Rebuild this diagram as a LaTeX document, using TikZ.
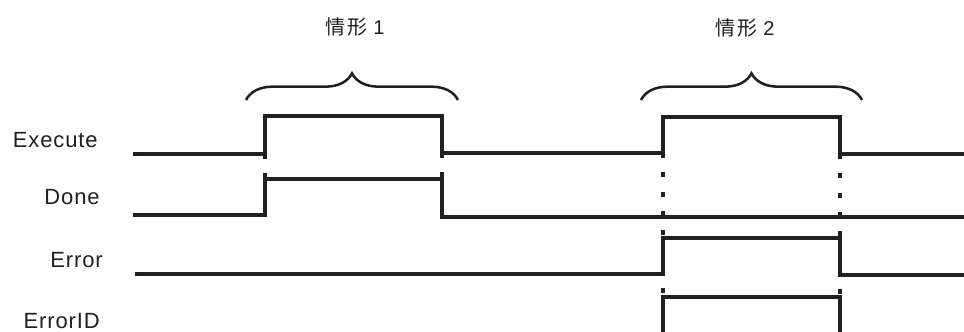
\documentclass[tikz,border=0pt]{standalone}
\usepackage{fontspec}
\setmainfont{Liberation Sans}[LetterSpace=4]
\newfontfamily\cjk{Noto Sans CJK SC}[LetterSpace=8]
\usepackage{tikz}
\usetikzlibrary{decorations.pathreplacing}
\definecolor{inkx}{HTML}{231F20}
\tikzset{
  sig/.style={inkx,line width=2.3pt,line join=miter},
  guide/.style={inkx,line width=2.3pt,dash pattern=on 3.75pt off 10.7pt},
  brc/.style={inkx,line width=1.9pt,decorate,decoration={brace,amplitude=20pt}},
  lbl/.style={font=\fontsize{16.5}{18}\selectfont,text=inkx,anchor=east,inner sep=0pt},
  casetxt/.style={font=\fontsize{15}{17}\selectfont,text=inkx,inner sep=0pt}
}

\begin{document}
\begin{tikzpicture}[x=0.75pt,y=-0.75pt]
\useasboundingbox (0,0) rectangle (964,332);
\def\ta{265}
\def\tb{442}
\def\tc{663}
\def\td{840}
% signal names
\node[lbl] (exe) at (98,140) {Execute};
\node[lbl] (done) at (100,197) {Done};
\node[lbl] (err) at (103,260) {Error};
\node[lbl] (errid) at (100,321) {ErrorID};
% case labels and braces
\node[casetxt] (caseA) at (355,27) {{\cjk 情形}\ 1};
\node[casetxt] (caseB) at (745,28) {{\cjk 情形}\ 2};
\draw[brc] (246,100) -- (458,100);
\draw[brc] (641,100) -- (862,100);
% waveforms
\draw[sig] (133,154) -- (\ta,154) -- (\ta,116) -- (\tb,116) -- (\tb,153) -- (\tc,153)
  -- (\tc,117) -- (\td,117) -- (\td,154) -- (964,154);
\draw[sig] (133,215) -- (\ta,215) -- (\ta,179) -- (\tb,179) -- (\tb,217) -- (964,217);
\draw[sig] (135,274) -- (\tc,274) -- (\tc,238) -- (\td,238) -- (\td,275) -- (964,275);
\draw[sig] (\tc,345) -- (\tc,297) -- (\td,297) -- (\td,345);
% guide lines
\draw[guide] (\ta,154) -- (\ta,179);
\draw[guide] (\tb,153) -- (\tb,179);
\draw[guide] (\tc,153) -- (\tc,297);
\draw[guide] (\td,154) -- (\td,297);
\end{tikzpicture}
\end{document}
